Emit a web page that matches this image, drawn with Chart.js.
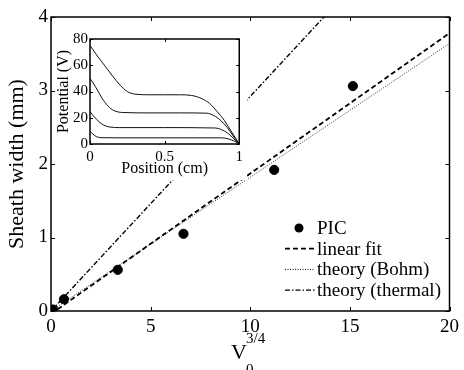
<!DOCTYPE html>
<html>
<head>
<meta charset="utf-8">
<script src="https://cdn.jsdelivr.net/npm/chart.js@4"></script>
<style>
  body { margin: 0; background: #fff; }
  #wrap { position: relative; width: 464px; height: 370px; overflow: hidden; }
  #main { position: absolute; left: 0; top: 0; }
  #inset { position: absolute; left: 57px; top: 28px; background: #fff; }
</style>
</head>
<body>
<div id="wrap">
  <canvas id="main" width="464" height="370"></canvas>
  <canvas id="inset" width="190" height="152"></canvas>
</div>
<script>
// main plot: sheath width vs V0^(3/4)
const picX = [0.1, 0.65, 3.35, 6.65, 11.2, 15.15];
const picY = [0.02, 0.16, 0.56, 1.05, 1.92, 3.06];
const fitX = [0, 20];
const fitY = [-0.04, 3.78];
const bohmX = [0, 20];
const bohmY = [0, 3.64];
const thermalX = [0, 13.7];
const thermalY = [0, 4.0];
const xTicks = [0, 5, 10, 15, 20];
const yTicks = [0, 1, 2, 3, 4];

// inset: potential profiles
const posX1 = [0, 0.05, 0.1, 0.15, 0.2, 0.25, 0.3, 0.4, 0.5, 0.6, 0.68, 0.75, 0.8, 0.85, 0.9, 0.95, 1];
const pot1 = [75, 67, 59.5, 52, 45, 40, 38, 37.5, 37.5, 37.5, 37, 34.5, 31, 25, 18, 9, 0];
const posX2 = [0, 0.04, 0.08, 0.12, 0.16, 0.22, 0.4, 0.6, 0.78, 0.84, 0.88, 0.92, 0.96, 1];
const pot2 = [50, 43, 35, 29, 25.5, 24, 23.7, 23.7, 23.5, 21, 17.5, 12.5, 6, 0];
const posX3 = [0, 0.03, 0.06, 0.09, 0.13, 0.2, 0.5, 0.84, 0.88, 0.92, 0.96, 1];
const pot3 = [24.7, 20.5, 17, 14.5, 13, 12.5, 12.5, 12.2, 11, 8.5, 4.5, 0];
const posX4 = [0, 0.02, 0.045, 0.08, 0.2, 0.5, 0.88, 0.93, 0.97, 1];
const pot4 = [9.7, 7.5, 5.5, 4.8, 4.7, 4.7, 4.7, 3.8, 2, 0];
const insetXTicks = [0, 0.5, 1];
const insetYTicks = [0, 20, 40, 60, 80];

const serif = "'Liberation Serif', 'DejaVu Serif', serif";

function pts(xs, ys) {
  return xs.map((x, i) => ({ x: x, y: ys[i] }));
}

// box + inward ticks on all four sides, MATLAB style
function boxTicks(len, xt, yt) {
  return {
    id: 'boxTicks',
    afterDraw(chart) {
      const ctx = chart.ctx;
      const a = chart.chartArea;
      const xs = chart.scales.x, ys = chart.scales.y;
      ctx.save();
      ctx.strokeStyle = '#000';
      ctx.lineWidth = 1;
      ctx.beginPath();
      xt.forEach(v => {
        const px = Math.round(xs.getPixelForValue(v)) + 0.5;
        ctx.moveTo(px, a.bottom); ctx.lineTo(px, a.bottom - len);
        ctx.moveTo(px, a.top); ctx.lineTo(px, a.top + len);
      });
      yt.forEach(v => {
        const py = Math.round(ys.getPixelForValue(v)) + 0.5;
        ctx.moveTo(a.left, py); ctx.lineTo(a.left + len, py);
        ctx.moveTo(a.right, py); ctx.lineTo(a.right - len, py);
      });
      ctx.stroke();
      ctx.lineWidth = 1.5;
      ctx.strokeRect(a.left, a.top, a.right - a.left, a.bottom - a.top);
      ctx.restore();
    }
  };
}

const legendItems = [
  { label: 'PIC', type: 'dot' },
  { label: 'linear fit', dash: [5, 3], width: 1.8 },
  { label: 'theory (Bohm)', dash: [1, 1.5], width: 1 },
  { label: 'theory (thermal)', dash: [5, 2, 1.5, 2], width: 1.4 }
];

const mainExtras = {
  id: 'mainExtras',
  afterDraw(chart) {
    const ctx = chart.ctx;
    const a = chart.chartArea;
    ctx.save();
    ctx.fillStyle = '#000';
    ctx.strokeStyle = '#000';
    // legend
    const lx = a.left + 234, tx = a.left + 266;
    legendItems.forEach((it, i) => {
      const y = a.top + 211 + i * 20.7;
      if (it.type === 'dot') {
        ctx.beginPath();
        ctx.arc(lx + 14, y, 4.5, 0, Math.PI * 2);
        ctx.fill();
      } else {
        ctx.beginPath();
        ctx.setLineDash(it.dash);
        ctx.lineWidth = it.width;
        ctx.moveTo(lx, y); ctx.lineTo(lx + 30, y);
        ctx.stroke();
        ctx.setLineDash([]);
      }
      ctx.font = '19px ' + serif;
      ctx.textBaseline = 'middle';
      ctx.textAlign = 'left';
      ctx.fillText(it.label, tx, y + 1);
    });
    // x-axis title: V_0^{3/4}
    ctx.textBaseline = 'alphabetic';
    ctx.font = '22px ' + serif;
    ctx.fillText('V', 231, 359);
    ctx.font = '15px ' + serif;
    ctx.fillText('3/4', 246, 343);
    ctx.fillText('0', 246, 374);
    ctx.restore();
  }
};

new Chart(document.getElementById('main'), {
  type: 'scatter',
  data: {
    datasets: [
      { label: 'PIC', data: pts(picX, picY), backgroundColor: '#000', borderColor: '#000', pointRadius: 4.6, showLine: false },
      { label: 'linear fit', data: pts(fitX, fitY), showLine: true, borderColor: '#000', borderWidth: 1.8, borderDash: [5, 3], pointRadius: 0 },
      { label: 'theory (Bohm)', data: pts(bohmX, bohmY), showLine: true, borderColor: '#333', borderWidth: 1, borderDash: [1, 1.5], pointRadius: 0 },
      { label: 'theory (thermal)', data: pts(thermalX, thermalY), showLine: true, borderColor: '#000', borderWidth: 1.4, borderDash: [5, 2, 1.5, 2], pointRadius: 0 }
    ]
  },
  options: {
    responsive: false,
    animation: false,
    devicePixelRatio: 1,
    layout: { padding: { left: 0, top: 17, right: 13, bottom: 0 } },
    plugins: { legend: { display: false }, tooltip: { enabled: false } },
    scales: {
      x: {
        type: 'linear', min: 0, max: 20,
        afterBuildTicks: s => { s.ticks = xTicks.map(v => ({ value: v })); },
        afterFit: s => { s.height = 59; },
        grid: { display: false, drawTicks: false },
        border: { display: false },
        ticks: { color: '#000', font: { family: serif, size: 19 }, padding: 5, maxRotation: 0 }
      },
      y: {
        type: 'linear', min: 0, max: 4,
        afterBuildTicks: s => { s.ticks = yTicks.map(v => ({ value: v })); },
        afterFit: s => { s.width = 51; },
        grid: { display: false, drawTicks: false },
        border: { display: false },
        ticks: { color: '#000', font: { family: serif, size: 19 }, padding: 3 },
        title: { display: true, text: 'Sheath width (mm)', color: '#000', font: { family: serif, size: 22 }, padding: { top: 4, bottom: 0 } }
      }
    }
  },
  plugins: [boxTicks(4, xTicks, yTicks), mainExtras]
});

new Chart(document.getElementById('inset'), {
  type: 'scatter',
  data: {
    datasets: [
      { data: pts(posX1, pot1) },
      { data: pts(posX2, pot2) },
      { data: pts(posX3, pot3) },
      { data: pts(posX4, pot4) }
    ].map(d => Object.assign(d, { showLine: true, borderColor: '#111', borderWidth: 1, pointRadius: 0, cubicInterpolationMode: 'monotone' }))
  },
  options: {
    responsive: false,
    animation: false,
    devicePixelRatio: 1,
    layout: { padding: { left: 0, top: 5, right: 6, bottom: 0 } },
    plugins: { legend: { display: false }, tooltip: { enabled: false } },
    scales: {
      x: {
        type: 'linear', min: 0, max: 1,
        afterBuildTicks: s => { s.ticks = insetXTicks.map(v => ({ value: v })); },
        afterFit: s => { s.height = 36; },
        grid: { display: false, drawTicks: false },
        border: { display: false },
        ticks: { color: '#000', font: { family: serif, size: 15 }, padding: 4, maxRotation: 0, callback: v => String(v) },
        title: { display: true, text: 'Position (cm)', color: '#000', font: { family: serif, size: 16 }, padding: { top: 0, bottom: 2 } }
      },
      y: {
        type: 'linear', min: 0, max: 80,
        afterBuildTicks: s => { s.ticks = insetYTicks.map(v => ({ value: v })); },
        afterFit: s => { s.width = 33; },
        grid: { display: false, drawTicks: false },
        border: { display: false },
        ticks: { color: '#000', font: { family: serif, size: 15 }, padding: 2 },
        title: { display: true, text: 'Potential (V)', color: '#000', font: { family: serif, size: 16 }, padding: { top: -3, bottom: 0 } }
      }
    }
  },
  plugins: [boxTicks(3, insetXTicks, insetYTicks)]
});
</script>
</body>
</html>
